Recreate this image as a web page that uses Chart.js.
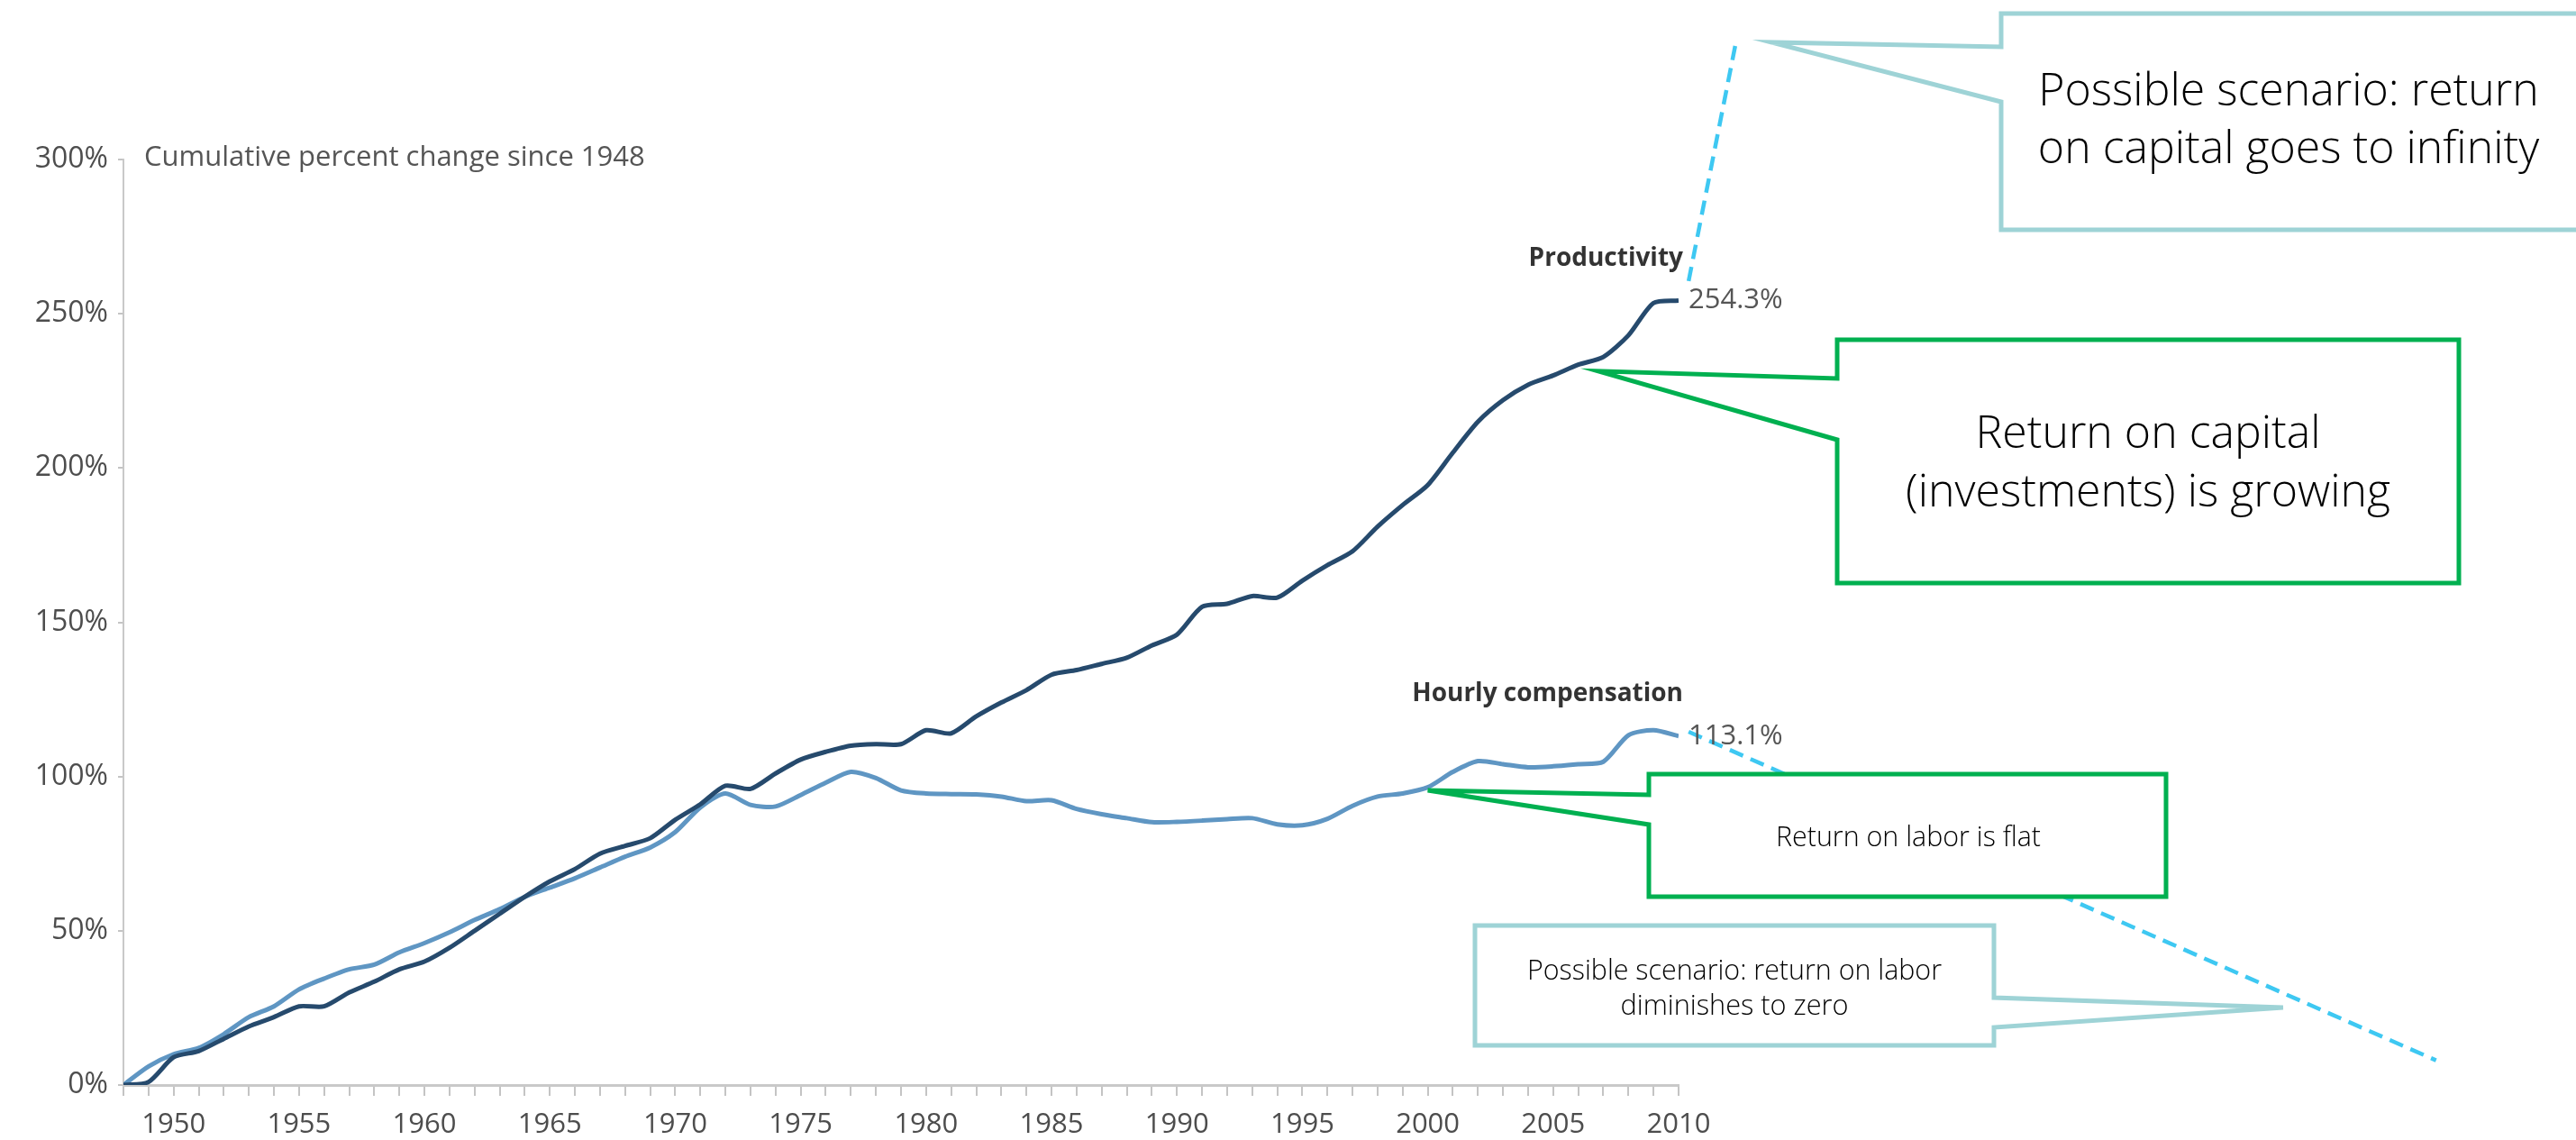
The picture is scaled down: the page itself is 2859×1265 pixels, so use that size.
<!DOCTYPE html>
<html>
<head>
<meta charset="utf-8">
<title>Productivity and hourly compensation since 1948</title>
<script src="https://cdn.jsdelivr.net/npm/chart.js@4.4.1/dist/chart.umd.min.js"></script>
<style>
  html, body { margin: 0; padding: 0; background: #fff; }
  #wrap { width: 2859px; height: 1265px; }
</style>
</head>
<body>
<div id="wrap"><canvas id="chart" width="2859" height="1265"></canvas></div>
<script>
// values
const years = [
  1948, 1949, 1950, 1951, 1952, 1953, 1954, 1955, 1956, 1957,
  1958, 1959, 1960, 1961, 1962, 1963, 1964, 1965, 1966, 1967,
  1968, 1969, 1970, 1971, 1972, 1973, 1974, 1975, 1976, 1977,
  1978, 1979, 1980, 1981, 1982, 1983, 1984, 1985, 1986, 1987,
  1988, 1989, 1990, 1991, 1992, 1993, 1994, 1995, 1996, 1997,
  1998, 1999, 2000, 2001, 2002, 2003, 2004, 2005, 2006, 2007,
  2008, 2009, 2010
];
const productivity = [
  0, 1, 9, 11, 15, 19, 22, 25.5, 25.5, 30,
  33.5, 37.5, 40, 44.5, 50, 55.5, 61, 66, 70, 75,
  77.5, 80, 86, 91, 97, 96, 101, 105.5, 108, 110,
  110.5, 110.5, 115, 114, 119.5, 124, 128, 133, 134.5, 136.5,
  138.5, 142.5, 146, 155, 156, 158.5, 158, 163.5, 168.5, 173,
  181, 188, 194.5, 205, 215, 222, 227, 230, 233.5, 236,
  243, 253.5, 254.3
];
const compensation = [
  0, 6, 10, 12, 16.5, 22, 25.5, 31, 34.5, 37.5,
  39, 43, 46, 49.5, 53.5, 57, 61, 64, 67, 70.5,
  74, 77, 82, 90, 94.5, 90.8, 90.3, 94, 98, 101.5,
  99.5, 95.5, 94.5, 94.3, 94.2, 93.5, 92, 92.3, 89.5, 87.8,
  86.5, 85.2, 85.3, 85.7, 86.2, 86.5, 84.5, 84.2, 86.3, 90.5,
  93.5, 94.5, 96.5, 101.5, 105, 104, 103, 103.3, 104, 104.8,
  113.4, 115, 113.1
];
// dashed "possible scenario" extensions
const capitalScenarioYears = [2010.4, 2012.3];
const capitalScenario = [260.6, 338.6];
const laborScenarioYears = [2010.4, 2040.2];
const laborScenario = [114.5, 8.0];

const xLabelYears = [1950, 1955, 1960, 1965, 1970, 1975, 1980, 1985, 1990, 1995, 2000, 2005, 2010];
const yTicks = [0, 50, 100, 150, 200, 250, 300];

const toPoints = (xs, ys) => xs.map((x, i) => ({ x: x, y: ys[i] }));

const GREEN = '#00b050';
const TEAL = '#9ed3d6';

// callout boxes (page layout, pixels); tips point at chart values
const callouts = [
  {
    lines: ['Possible scenario: return', 'on capital goes to infinity'],
    box: [2221, 15, 2866, 255], side: 'left', base: [52, 113], tip: [2013.7, 338],
    color: TEAL, font: '300 50px "Open Sans"', cx: 2540, ys: [103, 167], widths: [563, 572]
  },
  {
    lines: ['Return on capital', '(investments) is growing'],
    box: [2039, 377, 2729, 647], side: 'left', base: [420, 488], tip: [2006.8, 231.4],
    color: GREEN, font: '300 50px "Open Sans"', cx: 2384, ys: [483, 548], widths: [430, 550]
  },
  {
    lines: ['Return on labor is flat'],
    box: [1830, 859, 2404, 995], side: 'left', base: [882, 915], tip: [2000, 95.5],
    color: GREEN, font: '300 31px "Open Sans"', cx: 2118, ys: [930], widths: [294]
  },
  {
    lines: ['Possible scenario: return on labor', 'diminishes to zero'],
    box: [1637, 1027, 2213, 1160], side: 'right', base: [1107, 1140], tip: [2034.1, 25.1],
    color: TEAL, font: '300 31px "Open Sans"', cx: 1925, ys: [1078, 1117], widths: [460, 253]
  }
];

function drawCallout(ctx, c, tx, ty) {
  const [l, t, r, b] = c.box;
  ctx.save();
  ctx.beginPath();
  if (c.side === 'left') {
    ctx.moveTo(l, t);
    ctx.lineTo(r, t);
    ctx.lineTo(r, b);
    ctx.lineTo(l, b);
    ctx.lineTo(l, c.base[1]);
    ctx.lineTo(tx, ty);
    ctx.lineTo(l, c.base[0]);
  } else {
    ctx.moveTo(l, t);
    ctx.lineTo(r, t);
    ctx.lineTo(r, c.base[0]);
    ctx.lineTo(tx, ty);
    ctx.lineTo(r, c.base[1]);
    ctx.lineTo(r, b);
    ctx.lineTo(l, b);
  }
  ctx.closePath();
  ctx.fillStyle = '#fff';
  ctx.fill();
  ctx.lineWidth = 5;
  ctx.lineJoin = 'miter';
  ctx.strokeStyle = c.color;
  ctx.stroke();

  ctx.fillStyle = '#000';
  ctx.font = c.font;
  ctx.textAlign = 'center';
  ctx.textBaseline = 'middle';
  c.lines.forEach((line, i) => {
    ctx.fillText(line, c.cx, c.ys[i], c.widths[i]);
  });
  ctx.restore();
}

const overlay = {
  id: 'overlay',
  afterDraw(chart) {
    const { ctx } = chart;
    const x = chart.scales.x;
    const y = chart.scales.y;
    const last = years.length - 1;

    ctx.save();
    // caption next to the top of the y axis
    ctx.fillStyle = '#555';
    ctx.font = '31px "Open Sans"';
    ctx.textAlign = 'left';
    ctx.textBaseline = 'middle';
    ctx.fillText('Cumulative percent change since 1948', chart.chartArea.left + 23, y.getPixelForValue(300) - 2);

    // series labels at line ends
    const endX = x.getPixelForValue(years[last]);
    const pY = y.getPixelForValue(productivity[last]);
    const cY = y.getPixelForValue(compensation[last]);

    ctx.fillStyle = '#555';
    ctx.font = '31px "Open Sans"';
    ctx.fillText(productivity[last].toFixed(1) + '%', endX + 11, pY, 107);
    ctx.fillText(compensation[last].toFixed(1) + '%', endX + 11, cY, 107);

    ctx.fillStyle = '#333';
    ctx.font = 'bold 28px "Open Sans"';
    ctx.textAlign = 'right';
    ctx.fillText('Productivity', endX + 5, pY - 46, 186);
    ctx.fillText('Hourly compensation', endX + 5, cY - 47, 328);
    ctx.restore();

    callouts.forEach(c => {
      drawCallout(ctx, c, x.getPixelForValue(c.tip[0]), y.getPixelForValue(c.tip[1]));
    });
  }
};

Chart.defaults.font.family = '"Open Sans", sans-serif';

new Chart(document.getElementById('chart'), {
  type: 'line',
  data: {
    datasets: [
      {
        label: 'Productivity',
        data: toPoints(years, productivity),
        borderColor: '#264a6d',
        borderWidth: 5,
        pointRadius: 0,
        tension: 0.25
      },
      {
        label: 'Hourly compensation',
        data: toPoints(years, compensation),
        borderColor: '#5f96c3',
        borderWidth: 5,
        pointRadius: 0,
        tension: 0.25
      },
      {
        label: 'Capital scenario',
        data: toPoints(capitalScenarioYears, capitalScenario),
        borderColor: '#3ec8f2',
        borderWidth: 4.5,
        borderDash: [16, 9],
        pointRadius: 0,
        clip: false
      },
      {
        label: 'Labor scenario',
        data: toPoints(laborScenarioYears, laborScenario),
        borderColor: '#3ec8f2',
        borderWidth: 4.5,
        borderDash: [16, 9],
        pointRadius: 0,
        clip: false
      }
    ]
  },
  options: {
    responsive: false,
    devicePixelRatio: 1,
    animation: false,
    layout: { padding: { top: 177, right: 996, bottom: 0, left: 0 } },
    plugins: {
      legend: { display: false },
      tooltip: { enabled: false }
    },
    scales: {
      x: {
        type: 'linear',
        min: years[0],
        max: years[years.length - 1],
        afterFit: s => { s.height = 61; },
        border: { color: '#c9c9c9', width: 3 },
        grid: { drawOnChartArea: false, drawTicks: true, tickLength: 12, color: '#c4c4c4', lineWidth: 2 },
        ticks: {
          stepSize: 1,
          autoSkip: false,
          maxRotation: 0,
          padding: 14,
          color: '#4d4d4d',
          font: { size: 31 },
          callback: v => xLabelYears.includes(v) ? String(v) : ''
        }
      },
      y: {
        min: yTicks[0],
        max: yTicks[yTicks.length - 1],
        afterFit: s => { s.width = 137; },
        border: { color: '#c9c9c9', width: 2 },
        grid: { drawOnChartArea: false, drawTicks: true, tickLength: 6, color: '#c4c4c4', lineWidth: 2 },
        ticks: {
          stepSize: 50,
          padding: 11,
          color: '#4d4d4d',
          font: { size: 32 },
          callback: v => yTicks.includes(v) ? v + '%' : ''
        }
      }
    }
  },
  plugins: [overlay]
});
</script>
</body>
</html>
